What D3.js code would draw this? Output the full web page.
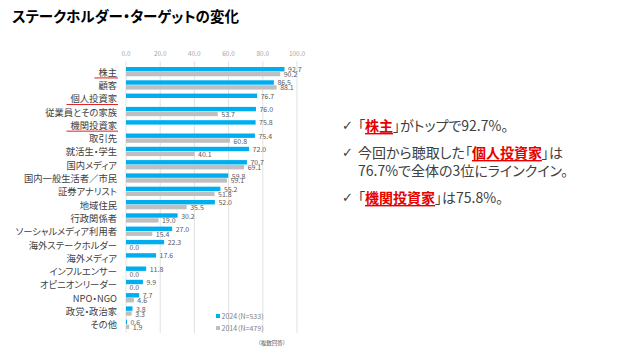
<!DOCTYPE html>
<html><head><meta charset="utf-8">
<script src="https://cdn.jsdelivr.net/npm/d3@7"></script>
<style>
html,body{margin:0;padding:0;background:#fff;}
svg{display:block;font-family:"Noto Sans CJK JP","Noto Sans",sans-serif;font-feature-settings:"palt";}
</style></head>
<body><svg id="c" width="640" height="360"></svg>
<script>
const categories = ["株主","顧客","個人投資家","従業員とその家族","機関投資家","取引先","就活生・学生","国内メディア","国内一般生活者／市民","証券アナリスト","地域住民","行政関係者","ソーシャルメディア利用者","海外ステークホルダー","海外メディア","インフルエンサー","オピニオンリーダー","NPO・NGO","政党・政治家","その他"];
const values2024 = [92.7,86.5,76.7,76.0,75.8,75.4,72.0,70.7,59.8,55.2,52.0,30.2,27.0,22.3,17.6,11.8,9.9,7.7,3.8,0.6];
const values2014 = [90.2,88.1,null,53.7,null,60.8,40.1,69.1,59.1,51.8,35.5,19.0,15.4,0.0,null,0.0,0.0,4.6,3.3,1.9];
const xTicks = [0,20,40,60,80,100];
const highlighted = ["株主","個人投資家","機関投資家"];
const seriesNames = ["2024（N=533）","2014（N=479）"];
const colors = ["#00AEEF","#BFBFBF"];

const svg = d3.select("#c");
svg.append("text").attr("x",12).attr("y",22).attr("font-size",14.5).attr("font-weight","bold").attr("fill","#000").text("ステークホルダー・ターゲットの変化");

const x = d3.scaleLinear().domain([0,100]).range([126,297]);
const y = d3.scaleBand().domain(categories).range([63,333]).padding(0.3);
const inner = d3.scaleBand().domain([0,1]).range([0,y.bandwidth()]).paddingInner(0.1);

// grid
svg.append("g").selectAll("line").data(xTicks).join("line")
  .attr("x1",d=>x(d)).attr("x2",d=>x(d)).attr("y1",61).attr("y2",333)
  .attr("stroke","#D9D9D9").attr("stroke-width",0.8);
svg.append("g").selectAll("text").data(xTicks).join("text")
  .attr("x",d=>x(d)).attr("y",55.5).attr("text-anchor","middle").attr("font-size",6.5).attr("fill","#A6A6A6")
  .text(d=>d.toFixed(1));

const rows = categories.map((c,i)=>({c, v:[values2024[i], values2014[i]]}));
const g = svg.append("g");
rows.forEach(r=>{
  r.v.forEach((v,k)=>{
    if(v===null) return;
    const yy = y(r.c)+inner(k);
    g.append("rect").attr("x",x(0)).attr("y",yy).attr("width",Math.max(0,x(v)-x(0))).attr("height",inner.bandwidth()).attr("fill",colors[k]);
    g.append("text").attr("x",x(v)+3.5).attr("y",yy+inner.bandwidth()/2).attr("dominant-baseline","central")
      .attr("font-size",7).attr("fill","#595959").text(v.toFixed(1));
  });
});

// category labels
const lab = svg.append("g");
categories.forEach(c=>{
  const cy = y(c)+y.bandwidth()/2;
  const t = lab.append("text").attr("x",117).attr("y",cy).attr("dominant-baseline","central").attr("text-anchor","end")
    .attr("font-size",9.3).attr("fill","#404040").text(c);
  if(highlighted.includes(c)){
    const w = t.node().getComputedTextLength();
    lab.append("line").attr("x1",117-w-4).attr("x2",118).attr("y1",cy+6.3).attr("y2",cy+6.3).attr("stroke","#E02020").attr("stroke-width",1);
  }
});

// legend
seriesNames.forEach((s,k)=>{
  const ly = 316 + k*12;
  svg.append("rect").attr("x",216).attr("y",ly-2).attr("width",4).attr("height",4).attr("fill",colors[k]);
  svg.append("text").attr("x",221.5).attr("y",ly).attr("dominant-baseline","central").attr("font-size",7).attr("fill","#7F7F7F").text(s);
});
svg.append("text").attr("x",258).attr("y",343).attr("dominant-baseline","central").attr("font-size",5.5).attr("fill","#595959").text("（複数回答）");

// right notes
const notes = [
  {y:125, check:true, parts:[["「",0],["株主",1],["」がトップで92.7%。",0]]},
  {y:152, check:true, parts:[["今回から聴取した「",0],["個人投資家",1],["」は",0]]},
  {y:170, check:false, parts:[["76.7%で全体の3位にラインクイン。",0]]},
  {y:197, check:true, parts:[["「",0],["機関投資家",1],["」は75.8%。",0]]}
];
notes.forEach(n=>{
  if(n.check) svg.append("text").attr("x",342).attr("y",n.y).attr("dominant-baseline","central").attr("font-size",13).attr("fill","#404040").attr("font-family","DejaVu Sans").text("✓");
  const t = svg.append("text").attr("x",358).attr("y",n.y).attr("dominant-baseline","central").attr("font-size",14).attr("fill","#404040");
  n.parts.forEach(([s,h])=>{
    const ts = t.append("tspan").text(s);
    if(h) ts.attr("fill","#E60000").attr("font-weight","bold").style("text-decoration","underline");
  });
});
</script></body></html>
